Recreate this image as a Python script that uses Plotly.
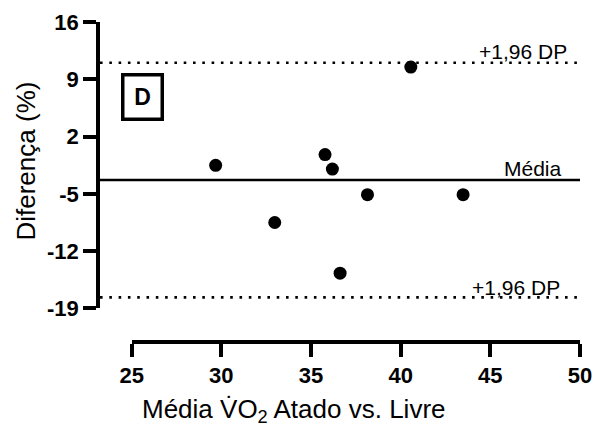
import plotly.graph_objects as go

# Data
media_vo2 = [29.65, 32.95, 35.76, 36.17, 40.55, 38.13, 43.47, 36.60]
diferenca = [-1.52, -8.50, -0.20, -1.97, 10.49, -5.10, -5.10, -14.70]
bias = -3.31
loa_upper = 11.02
loa_lower = -17.65
y_ticks = [-19, -12, -5, 2, 9, 16]
x_ticks = [25, 30, 35, 40, 45, 50]

FONT = "Liberation Sans, Arial, sans-serif"

fig = go.Figure()
# invisible trace to display the offset x axis
fig.add_trace(go.Scatter(x=[], y=[], xaxis="x2", yaxis="y",
                         showlegend=False, hoverinfo="skip"))
fig.add_trace(go.Scatter(
    x=media_vo2, y=diferenca, mode="markers",
    marker=dict(size=13, color="black"),
    xaxis="x", yaxis="y", showlegend=False, cliponaxis=False,
))

# reference lines
fig.add_shape(type="line", xref="paper", yref="y", x0=0, x1=1, y0=bias, y1=bias,
              line=dict(color="black", width=2.6))
for v in (loa_upper, loa_lower):
    fig.add_shape(type="line", xref="paper", yref="y", x0=0, x1=1, y0=v, y1=v,
                  line=dict(color="black", width=2.6, dash="2.6px,6.7px"))

ann_font = dict(family=FONT, size=21, color="black")
fig.add_annotation(text="+1,96 DP", xref="paper", yref="y", x=0.978, y=loa_upper,
                   xanchor="right", yanchor="middle", yshift=11, showarrow=False, font=ann_font)
fig.add_annotation(text="Média", xref="paper", yref="y", x=0.967, y=bias,
                   xanchor="right", yanchor="middle", yshift=12, showarrow=False, font=ann_font)
fig.add_annotation(text="+1,96 DP", xref="paper", yref="y", x=0.962, y=loa_lower,
                   xanchor="right", yanchor="middle", yshift=10, showarrow=False, font=ann_font)

# panel label
fig.add_annotation(text="<b>D</b>", xref="paper", yref="paper", x=0.0875, y=0.7656,
                   xanchor="center", yanchor="middle", showarrow=False,
                   font=dict(family=FONT, size=23, color="black"),
                   bordercolor="black", borderwidth=3.5, borderpad=4,
                   width=28, height=33)

# axis titles
title_font = dict(family=FONT, size=26, color="black")
fig.add_annotation(text="Média V\u0307O<sub>2</sub> Atado vs. Livre", xref="paper", yref="paper",
                   x=0.404, y=0, yshift=-68, xanchor="center", yanchor="middle",
                   showarrow=False, font=title_font)
fig.add_annotation(text="Diferença (%)", xref="paper", yref="paper",
                   x=0, xshift=-74, y=0.564, xanchor="center", yanchor="middle",
                   textangle=-90, showarrow=False, font=title_font)

tick_font = dict(family=FONT, size=22, color="black")
fig.update_layout(
    width=593, height=419,
    margin=dict(l=92, r=21, t=14, b=85),
    paper_bgcolor="white", plot_bgcolor="rgba(0,0,0,0)",
    xaxis=dict(domain=[0, 1], range=[23.19, 50], showline=False, showticklabels=False,
               ticks="", showgrid=False, zeroline=False, automargin=False),
    xaxis2=dict(domain=[0.066, 1], range=[25, 50], anchor="free", position=0,
                showline=True, linecolor="black", linewidth=3.5,
                ticks="outside", ticklen=13, tickwidth=3.5, tickcolor="black",
                tickvals=x_ticks, ticktext=[f"<b>{v}</b>" for v in x_ticks],
                tickfont=tick_font, showgrid=False, zeroline=False, automargin=False),
    yaxis=dict(domain=[0.105, 1], range=[-19, 16], showline=True, linecolor="black",
               linewidth=3.5, ticks="outside", ticklen=13, tickwidth=3.5, tickcolor="black",
               tickvals=y_ticks, ticktext=[f"<b>{v}</b>" for v in y_ticks],
               tickfont=tick_font, showgrid=False, zeroline=False, anchor="x",
               automargin=False),
    showlegend=False,
)

fig.write_html("out.html")
